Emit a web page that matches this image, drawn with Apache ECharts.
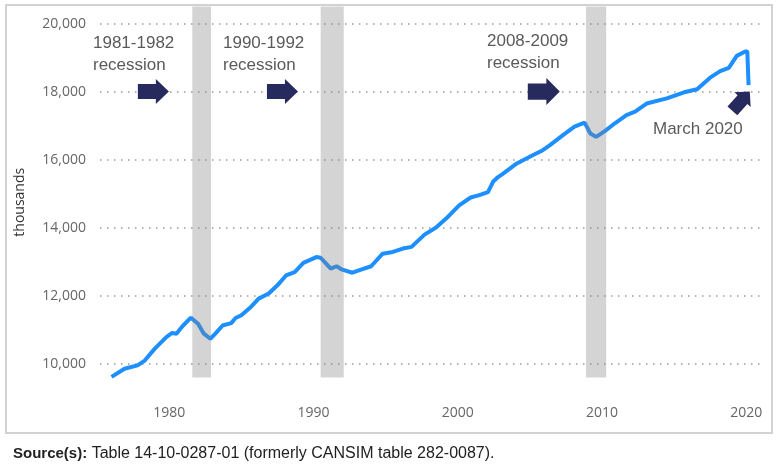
<!DOCTYPE html>
<html>
<head>
<meta charset="utf-8">
<script src="https://cdn.jsdelivr.net/npm/echarts@6/dist/echarts.min.js"></script>
<style>
html, body { margin: 0; padding: 0; background: #fff; }
#main { width: 779px; height: 465px; }
</style>
</head>
<body>
<div id="main"></div>
<script>
// employment, thousands
var years = [1976.0, 1976.9, 1977.8, 1978.3, 1979.0, 1979.8, 1980.2, 1980.5, 1980.9, 1981.5,
  1982.0, 1982.4, 1982.85, 1983.2, 1983.7, 1984.3, 1984.6, 1985.0, 1985.7, 1986.2,
  1986.9, 1987.5, 1988.1, 1988.7, 1989.3, 1990.2, 1990.5, 1991.2, 1991.6, 1992.0,
  1992.7, 1993.3, 1994.0, 1994.8, 1995.5, 1996.2, 1996.8, 1997.7, 1998.5, 1999.2,
  2000.1, 2000.9, 2001.5, 2002.1, 2002.45, 2002.8, 2003.15, 2004.1, 2005.2, 2005.9,
  2006.4, 2007.3, 2008.1, 2008.8, 2009.2, 2009.6, 2010.2, 2010.9, 2011.7, 2012.3,
  2013.1, 2014.5, 2015.7, 2016.6, 2017.5, 2018.2, 2018.8, 2019.35, 2019.9, 2020.08, 2020.17];
var employment = [9620, 9860, 9960, 10100, 10450, 10790, 10910, 10890, 11100, 11360,
  11180, 10890, 10740, 10890, 11130, 11200, 11350, 11430, 11690, 11920,
  12070, 12310, 12600, 12700, 12970, 13140, 13120, 12800, 12870, 12770,
  12680, 12770, 12870, 13240, 13290, 13390, 13440, 13800, 14010, 14270,
  14660, 14890, 14960, 15050, 15350, 15490, 15590, 15890, 16130, 16280,
  16430, 16720, 16970, 17090, 16770, 16670, 16840, 17070, 17310, 17410,
  17650, 17800, 17980, 18070, 18410, 18600, 18700, 19050, 19170, 19190, 18190];

var recessions = [[1981.6, 1982.9], [1990.5, 1992.1], [2008.9, 2010.3]];
var yTicks = [10000, 12000, 14000, 16000, 18000, 20000];
var xTicks = [1980, 1990, 2000, 2010, 2020];

var arrowX = [1978.9, 1987.85, 2005.97, 2019.65];
var arrowY = [18000, 18000, 18000, 17720];
var arrowAngle = [0, 0, 0, 48];
var arrowSize = [[31, 25], [31, 25], [32, 27], [26, 22]];

var notes = [
  { text: '1981-1982\nrecession', x: 93, y: 32 },
  { text: '1990-1992\nrecession', x: 223, y: 32 },
  { text: '2008-2009\nrecession', x: 487, y: 30 },
  { text: 'March 2020', x: 653, y: 118 }
];

var lineData = years.map(function(y, i) {
  return [y, employment[i]];
});
var arrowData = arrowX.map(function(x, i) {
  return { value: [x, arrowY[i]], symbolRotate: arrowAngle[i], symbolSize: arrowSize[i] };
});

var myChart = echarts.init(document.getElementById('main'));

myChart.setOption({
  animation: false,
  backgroundColor: '#fff',
  grid: { left: 100, right: 17, top: 6.5, bottom: 67, containLabel: false },
  xAxis: {
    type: 'value',
    min: 1975.2,
    max: 2021.1,
    axisLine: { show: false },
    axisTick: { show: false, customValues: xTicks },
    splitLine: { show: false },
    axisLabel: {
      customValues: xTicks,
      margin: 8,
      color: '#666',
      fontFamily: 'Open Sans',
      fontSize: 14,
      formatter: function(v) { return String(v); }
    }
  },
  yAxis: {
    type: 'value',
    min: 9000,
    max: 20500,
    name: 'thousands',
    nameLocation: 'middle',
    nameGap: 73,
    nameTextStyle: { color: '#333', fontFamily: 'Open Sans', fontSize: 14 },
    axisLine: { show: false },
    axisTick: { show: false, customValues: yTicks },
    axisLabel: {
      customValues: yTicks,
      margin: 14,
      color: '#666',
      fontFamily: 'Open Sans',
      fontSize: 14,
      formatter: function(v) { return echarts.format.addCommas(v); }
    },
    splitLine: {
      show: true,
      lineStyle: { color: '#9a9a9a', width: 1.5, type: [1.5, 5.5] }
    }
  },
  graphic: [
    {
      type: 'rect',
      shape: { x: 6, y: 5, width: 766, height: 428 },
      style: { fill: 'none', stroke: '#d2d2d2', lineWidth: 2 },
      silent: true
    },
    {
      type: 'text',
      left: 13,
      top: 446,
      style: {
        text: '{b|Source(s):} {r|Table 14-10-0287-01 (formerly CANSIM table 282-0087).}',
        fill: '#222',
        fontSize: 16,
        fontFamily: 'Liberation Sans',
        rich: {
          b: { fontWeight: 'bold', fill: '#222', fontSize: 15, fontFamily: 'Liberation Sans' },
          r: { fill: '#222', fontSize: 16, fontFamily: 'Liberation Sans' }
        }
      }
    }
  ].concat(notes.map(function(n) {
    return {
      type: 'text',
      left: n.x,
      top: n.y,
      style: {
        text: n.text,
        fill: '#5a5a5a',
        fontSize: 17,
        fontFamily: 'Liberation Sans',
        lineHeight: 22
      }
    };
  })),
  series: [
    {
      type: 'line',
      data: lineData,
      showSymbol: false,
      symbol: 'none',
      lineStyle: { color: '#1e8fff', width: 4 },
      z: 2
    },
    {
      type: 'line',
      data: [],
      z: 3,
      markArea: {
        silent: true,
        z: 3,
        itemStyle: { color: 'rgba(128,128,128,0.34)' },
        data: recessions.map(function(r) {
          return [{ coord: [r[0], 9600] }, { coord: [r[1], 20500] }];
        })
      }
    },
    {
      type: 'scatter',
      data: arrowData,
      symbol: 'path://M0,5 L18,5 L18,0 L31,12.5 L18,25 L18,20 L0,20 Z',
      itemStyle: { color: '#272a5c', opacity: 1 },
      silent: true,
      z: 4
    }
  ]
});
</script>
</body>
</html>
